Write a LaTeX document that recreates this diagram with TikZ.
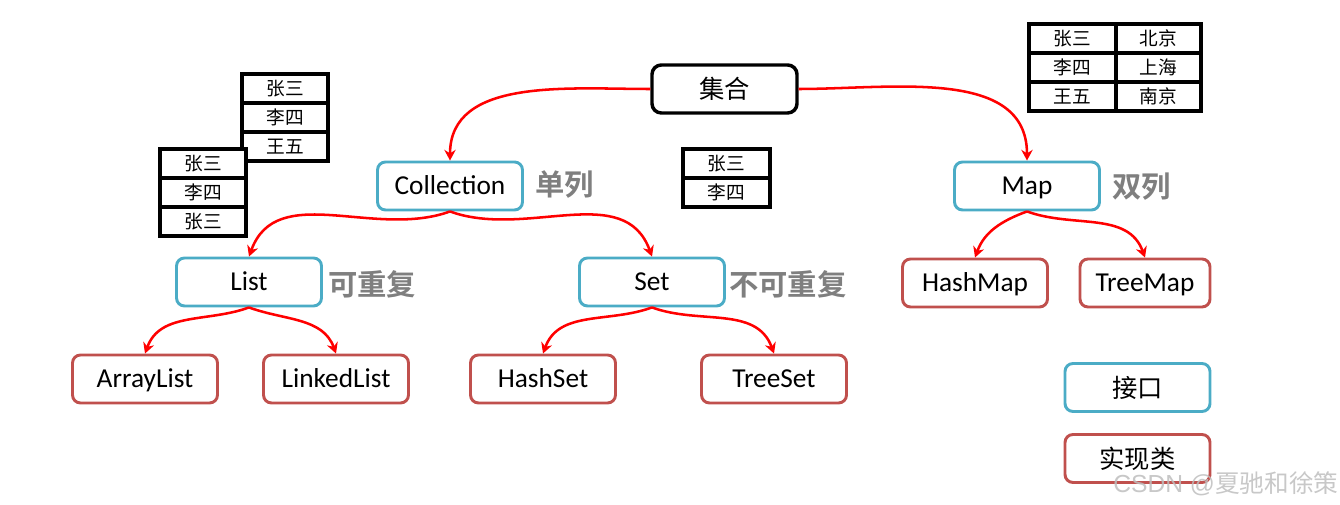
\documentclass[tikz,border=0pt]{standalone}
\usepackage{fontspec}
\setmainfont{Carlito}
\newfontfamily\cjk{Noto Sans CJK SC}
\newfontfamily\cjkb{Noto Sans CJK SC Bold}
\newfontfamily\wmfont{Liberation Sans}
\usetikzlibrary{arrows.meta}
\definecolor{ifc}{HTML}{4BACC6}
\definecolor{impl}{HTML}{C0504D}
\definecolor{lbl}{HTML}{7F7F7F}
\definecolor{wm}{HTML}{BEBEBE}
\tikzset{
  box/.style={draw, rounded corners=6pt, line width=2.2pt, fill=white,
    minimum width=108.75pt, minimum height=36pt, inner sep=0pt,
    text height=15pt, text depth=2.1pt, font=\fontsize{20.5}{22}\selectfont},
  cjkbox/.style={font=\cjk\fontsize{19}{21}\selectfont, text height=16.5pt, text depth=2.1pt},
  ifbox/.style={box, draw=ifc},
  imbox/.style={box, draw=impl},
  rootbox/.style={box, draw=black, line width=2.6pt, rounded corners=7pt},
  cell/.style={draw, line width=2.6pt, fill=white, minimum width=64.5pt, minimum height=21.75pt,
    inner sep=0pt, text height=12.5pt, text depth=1.9pt, font=\cjk\fontsize{14}{16}\selectfont},
  tag/.style={text=lbl, font=\cjkb\fontsize{22}{24}\selectfont, inner sep=0pt},
  arr/.style={draw=red, line width=1.9pt, -{Stealth[length=8pt,width=8.5pt]}},
}
\begin{document}
\begin{tikzpicture}[x=0.75pt,y=-0.75pt]
\useasboundingbox (0,0) rectangle (1340,505);
% tables
\node[cell] (a1) at (285,88.5) {张三};
\node[cell] (a2) at (285,117.5) {李四};
\node[cell] (a3) at (285,146.5) {王五};
\node[cell] (b1) at (203,163.5) {张三};
\node[cell] (b2) at (203,192.5) {李四};
\node[cell] (b3) at (203,221.5) {张三};
\node[cell, minimum width=65.25pt] (c1) at (726.5,163.5) {张三};
\node[cell, minimum width=65.25pt] (c2) at (726.5,192.5) {李四};
\node[cell, minimum width=65.25pt] (d11) at (1072.5,38.5) {张三};
\node[cell, minimum width=65.25pt] (d21) at (1072.5,67.5) {李四};
\node[cell, minimum width=65.25pt] (d31) at (1072.5,96.5) {王五};
\node[cell, minimum width=63.75pt] (d12) at (1158.5,38.5) {北京};
\node[cell, minimum width=63.75pt] (d22) at (1158.5,67.5) {上海};
\node[cell, minimum width=63.75pt] (d32) at (1158.5,96.5) {南京};
% nodes
\node[rootbox, cjkbox] (jihe) at (724.5,89) {集合};
\node[ifbox] (coll) at (450,186) {Collection};
\node[ifbox] (map) at (1027,186) {Map};
\node[ifbox] (list) at (249,282) {List};
\node[ifbox] (set) at (652,282) {Set};
\node[imbox] (hmap) at (975,283) {HashMap};
\node[imbox, minimum width=97.5pt] (tmap) at (1145,283) {TreeMap};
\node[imbox] (alist) at (145,379) {ArrayList};
\node[imbox] (llist) at (336,379) {LinkedList};
\node[imbox] (hset) at (543,379) {HashSet};
\node[imbox] (tset) at (774,379) {TreeSet};
\node[ifbox, cjkbox] (jk) at (1137.5,387.5) {接口};
\node[imbox, cjkbox] (sx) at (1137.5,458.5) {实现类};
% labels
\node[tag, anchor=west] (l1) at (535,185) {单列};
\node[tag, anchor=west] (l2) at (1112,187) {双列};
\node[tag, anchor=west] (l3) at (328,284) {可重复};
\node[tag, anchor=west] (l4) at (729,284) {不可重复};
% arrows
\draw[arr] (jihe.west) to[out=180,in=90] (coll.north);
\draw[arr] (jihe.east) to[out=0,in=90] (map.north);
\draw[arr] (coll.south) to[out=-160,in=70] (list.north);
\draw[arr] (coll.south) to[out=-20,in=110] (set.north);
\draw[arr] (list.south) to[out=-160,in=70] (alist.north);
\draw[arr] (list.south) to[out=-20,in=110] (llist.north);
\draw[arr] (set.south) to[out=-160,in=70] (hset.north);
\draw[arr] (set.south) to[out=-20,in=110] (tset.north);
\draw[arr] (map.south) to[out=-160,in=70] (hmap.north);
\draw[arr] (map.south) to[out=-20,in=110] (tmap.north);
% watermark
\node[anchor=west, inner sep=0pt, text=wm, opacity=0.85] (wmk) at (1113,484)
  {\wmfont\fontsize{18.5}{20}\selectfont CSDN @\cjk 夏驰和徐策};
\end{tikzpicture}
\end{document}
